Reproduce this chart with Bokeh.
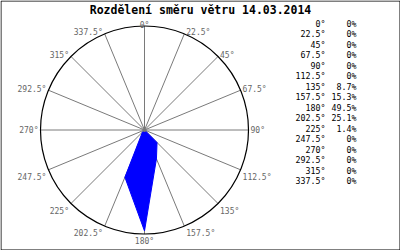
import numpy as np
from bokeh.plotting import figure
from bokeh.models import Range1d, ColumnDataSource
from bokeh.core.properties import value
from bokeh.embed import file_html
from bokeh.resources import INLINE

title = "Rozdělení směru větru 14.03.2014"
directions = [0, 22.5, 45, 67.5, 90, 112.5, 135, 157.5,
              180, 202.5, 225, 247.5, 270, 292.5, 315, 337.5]
shares = [0, 0, 0, 0, 0, 0, 8.7, 15.3, 49.5, 25.1, 1.4, 0, 0, 0, 0, 0]

W, H = 400, 250
CX, CY, R = 144, 129.5, 104
SCALE_MAX = 51.0
MONO = "DejaVu Sans Mono"

p = figure(width=W, height=H, x_range=Range1d(0, W), y_range=Range1d(H, 0),
           output_backend="svg", toolbar_location=None, min_border=0)
p.axis.visible = False
p.grid.visible = False
p.outline_line_color = None
p.background_fill_color = "white"
p.border_fill_color = "white"

th = np.radians(np.array(directions, dtype=float))
s, c = np.sin(th), np.cos(th)
px = CX + R * s
py = CY - R * c

# spokes
p.segment(x0=[CX] * len(directions), y0=[CY] * len(directions), x1=px, y1=py,
          line_color="#7a7a7a", line_width=1)
# outer circle
p.circle(x=[CX], y=[CY], radius=R, radius_dimension="x", fill_color=None,
         line_color="black", line_width=1.2)

# wind polygon
rr = np.array(shares) / SCALE_MAX * R
p.patch(x=CX + rr * s, y=CY - rr * c, fill_color="#0000ff", line_color="#0000ff",
        line_width=1)
p.scatter(x=[CX], y=[CY], size=4, fill_color="#7a7a7a", line_color=None)

# direction labels around circle
lx, ly, al, bl = [], [], [], []
for x, y, si, co in zip(px, py, s, c):
    if si > 0.01:
        a = "left"; x += 2
    elif si < -0.01:
        a = "right"; x -= 2
    else:
        a = "center"
    if co > 0.3:
        b = "alphabetic"; y -= 1
    elif co < -0.3:
        b = "top"; y += 3
    else:
        b = "middle"
    lx.append(x); ly.append(y); al.append(a); bl.append(b)
lab_src = ColumnDataSource(dict(x=lx, y=ly, t=[f"{d:g}°" for d in directions],
                                a=al, b=bl))
p.text(x="x", y="y", text="t", text_align="a", text_baseline="b", source=lab_src,
       text_font=value(MONO), text_font_size="8px", text_color="#666666")

# title
p.text(x=[W / 2], y=[9], text=[title], text_align="center", text_baseline="middle",
       text_font=value(MONO), text_font_size="11.5px", text_font_style="bold",
       text_color="black")

# table on the right
rows = [23 + 10.5 * i for i in range(len(directions))]
p.text(x=[325] * len(rows), y=rows, text=[f"{d:g}°" for d in directions],
       text_align="right", text_baseline="middle", text_font=value(MONO),
       text_font_size="8.3px", text_color="black")
p.text(x=[356] * len(rows), y=rows, text=[f"{v:g}%" for v in shares],
       text_align="right", text_baseline="middle", text_font=value(MONO),
       text_font_size="8.3px", text_color="black")

# image border
p.quad(left=[0.5], right=[W - 0.5], top=[0.5], bottom=[H - 0.5], fill_color=None,
       line_color="black", line_width=1)

open("out.html", "w").write(file_html(p, INLINE))
